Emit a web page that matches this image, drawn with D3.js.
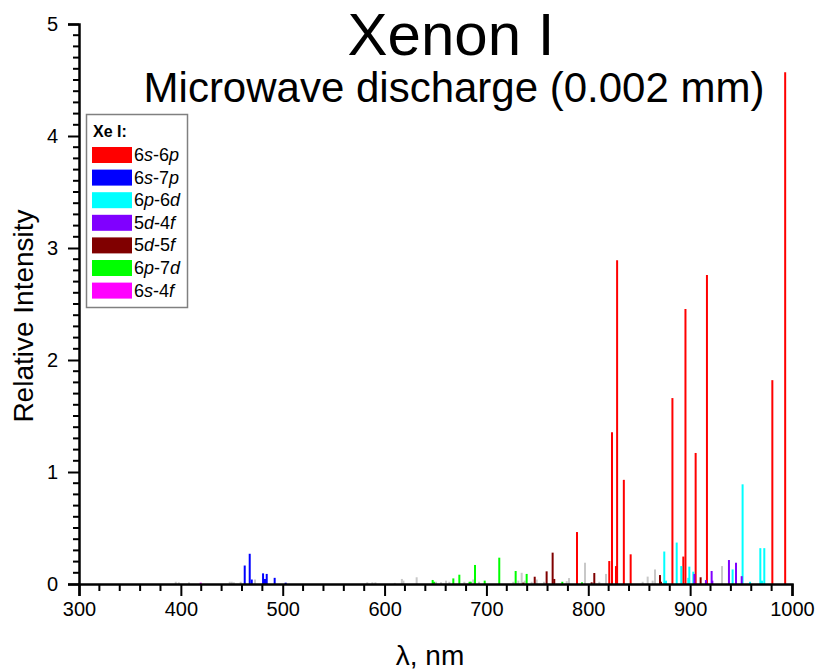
<!DOCTYPE html>
<html>
<head>
<meta charset="utf-8">
<script src="https://cdn.jsdelivr.net/npm/d3@7"></script>
<style>
  body { margin: 0; background: #fff; }
  svg { font-family: "Liberation Sans", Arial, sans-serif; }
</style>
</head>
<body>
<div id="chart"></div>
<script>
// series names and colours (legend order)
const seriesNames = ["6s-6p", "6s-7p", "6p-6d", "5d-4f", "5d-5f", "6p-7d", "6s-4f"];
const seriesColors = ["#ff0000", "#0000ff", "#00ffff", "#8000ff", "#800000", "#00ff00", "#ff00ff"];

// [wavelength nm, relative intensity]
const lines6s6p = [[788.9, 0.464], [820.6, 0.205], [823.3, 1.355], [827.2, 0.16], [828.3, 2.89],
  [834.9, 0.93], [841.6, 0.265], [882.6, 1.66], [893.3, 0.245], [895.4, 2.455], [905.4, 1.17],
  [916.5, 2.76], [980.7, 1.82], [993.3, 4.57]];
const lines6s7p = [[462.7, 0.165], [467.6, 0.27], [469.6, 0.04], [480.7, 0.095], [482.6, 0.045],
  [484.3, 0.09], [492.1, 0.055], [502.9, 0.012]];
const lines6p6d = [[874.6, 0.29], [876.3, 0.03], [886.8, 0.37], [891.3, 0.16], [898.2, 0.055],
  [899.2, 0.155], [903.1, 0.11], [941.7, 0.13], [951.5, 0.89], [958.8, 0.02], [968.9, 0.32],
  [970.5, 0.03], [972.8, 0.32]];
const lines5d4f = [[904.2, 0.09], [915.5, 0.035], [921.1, 0.116], [921.8, 0.03], [938.1, 0.214],
  [945.0, 0.19], [950.6, 0.07]];
const lines5d5f = [[736.2, 0.012], [747.4, 0.065], [759.1, 0.113], [765.0, 0.28], [766.6, 0.045],
  [803.3, 0.015], [805.9, 0.098], [870.4, 0.08], [871.4, 0.02], [910.3, 0.06]];
const lines6p7d = [[647.2, 0.036], [648.5, 0.02], [667.5, 0.05], [673.4, 0.083], [683.4, 0.02],
  [684.6, 0.02], [688.8, 0.17], [698.3, 0.03], [712.6, 0.235], [728.7, 0.116], [739.5, 0.09],
  [774.5, 0.02], [793.8, 0.015]];
const lines6s4f = [[419.5, 0.012]];
// unclassified lines (grey)
const linesOther = [[395, 0.02], [398, 0.015], [408, 0.015], [448, 0.02], [450, 0.02], [452, 0.015],
  [458.7, 0.02], [472.8, 0.04], [583, 0.015], [588, 0.015], [591, 0.015], [610, 0.01], [617, 0.045],
  [618.5, 0.03], [631.5, 0.06], [650.5, 0.02], [655.4, 0.015], [660.3, 0.03], [663.6, 0.02],
  [678.3, 0.02], [687.1, 0.04], [692.7, 0.02], [726.4, 0.02], [731.3, 0.03], [734.6, 0.1],
  [737.5, 0.03], [744.4, 0.02], [749.3, 0.04], [756.5, 0.02], [778.8, 0.025], [781.1, 0.053],
  [796.8, 0.19], [810.8, 0.02], [817.4, 0.09], [853.4, 0.02], [858.3, 0.066], [863.2, 0.03],
  [865.5, 0.13], [931.3, 0.16]];

const seriesLines = [lines6s6p, lines6s7p, lines6p6d, lines5d4f, lines5d5f, lines6p7d, lines6s4f];

const xTicks = [300, 400, 500, 600, 700, 800, 900, 1000];
const yTicks = [0, 1, 2, 3, 4, 5];

const width = 819, height = 672;
const svg = d3.select("#chart").append("svg")
  .attr("width", width).attr("height", height);

const x = d3.scaleLinear().domain([300, 1000]).range([79, 792]);
const y = d3.scaleLinear().domain([0, 5]).range([584, 24]);

// spectral lines
const drawLines = (data, color) => {
  svg.append("g")
    .attr("stroke", color)
    .attr("stroke-width", 2)
    .selectAll("line")
    .data(data)
    .join("line")
    .attr("x1", d => x(d[0])).attr("x2", d => x(d[0]))
    .attr("y1", y(0)).attr("y2", d => y(d[1]));
};
drawLines(linesOther, "#c8c8c8");
seriesLines.forEach((s, i) => drawLines(s, seriesColors[i]));

// axes
const xMinor = d3.range(300, 1001, 20).filter(v => !xTicks.includes(v));
const yMinor = d3.range(0, 50).map(v => v / 10).filter(v => !yTicks.includes(v));

const xAxis = svg.append("g").attr("transform", `translate(0,${y(0)})`);
xAxis.call(d3.axisBottom(x).tickValues(xTicks).tickFormat(d3.format("d")).tickSize(12).tickPadding(6));
xAxis.call(g => g.selectAll(".minor").data(xMinor).join("line").attr("class", "minor")
  .attr("x1", d => x(d)).attr("x2", d => x(d)).attr("y1", 0).attr("y2", 7)
  .attr("stroke", "#000").attr("stroke-width", 2));

const yAxis = svg.append("g").attr("transform", `translate(${x(300)},0)`);
yAxis.call(d3.axisLeft(y).tickValues(yTicks).tickFormat(d3.format("d")).tickSize(11).tickPadding(10));
yAxis.call(g => g.selectAll(".minor").data(yMinor).join("line").attr("class", "minor")
  .attr("y1", d => y(d)).attr("y2", d => y(d)).attr("x1", 0).attr("x2", -6)
  .attr("stroke", "#000").attr("stroke-width", 2));

svg.selectAll(".domain").attr("stroke", "#000").attr("stroke-width", 2.5);
svg.selectAll(".tick line").attr("stroke", "#000").attr("stroke-width", 2);
svg.selectAll(".tick text").attr("font-family", "Liberation Sans, Arial, sans-serif")
  .attr("font-size", 20).attr("fill", "#000");

// titles
svg.append("text").attr("x", 451).attr("y", 55).attr("text-anchor", "middle")
  .attr("font-size", 60).text("Xenon I");
svg.append("text").attr("x", 454).attr("y", 102).attr("text-anchor", "middle")
  .attr("font-size", 42).text("Microwave discharge (0.002 mm)");

svg.append("text").attr("x", 430).attr("y", 665).attr("text-anchor", "middle")
  .attr("font-size", 28).text("λ, nm");
svg.append("text").attr("transform", "translate(33,316) rotate(-90)").attr("text-anchor", "middle")
  .attr("font-size", 28).text("Relative Intensity");

// legend
const legend = svg.append("g");
legend.append("rect").attr("x", 86.5).attr("y", 114.5).attr("width", 101).attr("height", 193)
  .attr("fill", "#fff").attr("stroke", "#808080").attr("stroke-width", 1.5);
legend.append("text").attr("x", 93).attr("y", 137).attr("font-size", 16).attr("font-weight", "bold")
  .text("Xe I:");
const rows = legend.selectAll(".row").data(seriesNames).join("g").attr("class", "row")
  .attr("transform", (d, i) => `translate(0,${147 + i * 22.6})`);
rows.append("rect").attr("x", 92).attr("y", 0).attr("width", 40).attr("height", 16)
  .attr("fill", (d, i) => seriesColors[i]);
rows.append("text").attr("x", 134).attr("y", 14).attr("font-size", 18)
  .each(function (d) {
    const parts = d.split(/([a-z])/).filter(p => p !== "");
    const t = d3.select(this);
    parts.forEach(p => t.append("tspan").attr("font-style", /[a-z]/.test(p) ? "italic" : null).text(p));
  });
</script>
</body>
</html>
